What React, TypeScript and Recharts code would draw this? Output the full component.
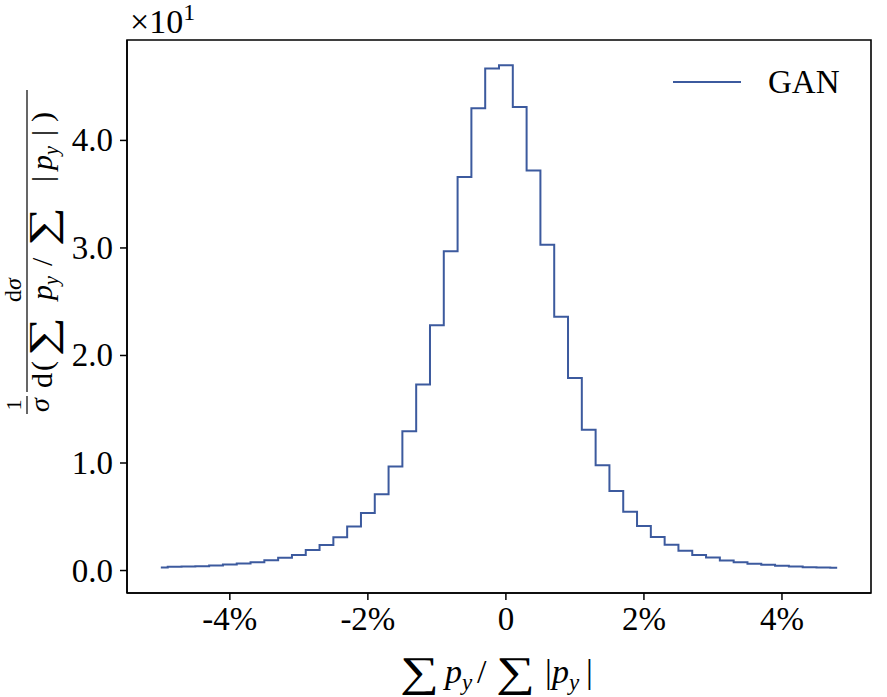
import React from 'react';
import { LineChart, Line, XAxis, YAxis, ReferenceArea } from 'recharts';

// bin centres in percent
const binCenters = [
  -5.0, -4.8, -4.6, -4.4, -4.2, -4.0, -3.8, -3.6, -3.4, -3.2,
  -3.0, -2.8, -2.6, -2.4, -2.2, -2.0, -1.8, -1.6, -1.4, -1.2,
  -1.0, -0.8, -0.6, -0.4, -0.2, 0.0, 0.2, 0.4, 0.6, 0.8,
  1.0, 1.2, 1.4, 1.6, 1.8, 2.0, 2.2, 2.4, 2.6, 2.8,
  3.0, 3.2, 3.4, 3.6, 3.8, 4.0, 4.2, 4.4, 4.6, 4.8,
];

// normalised density, in units of 10^1
const ganValues = [
  0.028, 0.034, 0.037, 0.040, 0.047, 0.056, 0.065, 0.078, 0.096, 0.118,
  0.145, 0.190, 0.238, 0.310, 0.410, 0.535, 0.710, 0.967, 1.295, 1.730,
  2.280, 2.970, 3.660, 4.300, 4.670, 4.700, 4.310, 3.720, 3.030, 2.360,
  1.790, 1.310, 0.980, 0.740, 0.547, 0.414, 0.312, 0.240, 0.185, 0.145,
  0.120, 0.093, 0.078, 0.062, 0.053, 0.044, 0.037, 0.031, 0.028, 0.025,
];

const xTicks = [-4, -2, 0, 2, 4];
const xTickLabels = ['-4%', '-2%', '0', '2%', '4%'];
const yTicks = [0, 1, 2, 3, 4];
const yTickLabels = ['0.0', '1.0', '2.0', '3.0', '4.0'];

const data = binCenters.map((x, i) => ({ x, gan: ganValues[i] }));

const FONT = '"Liberation Serif", "DejaVu Serif", serif';
const LINE_COLOR = '#3C5A9E';
const X_DOMAIN: [number, number] = [-5.49, 5.29];
const Y_DOMAIN: [number, number] = [-0.209, 4.934];

const XTick = ({ x, y, payload }: any) => {
  const i = xTicks.indexOf(payload.value);
  return (
    <text x={x} y={y + 26} textAnchor="middle" fontSize={33} fontFamily={FONT} fill="#000">
      {i >= 0 ? xTickLabels[i] : payload.value}
    </text>
  );
};

const YTick = ({ x, y, payload }: any) => {
  const i = yTicks.indexOf(payload.value);
  return (
    <text x={x} y={y + 11} textAnchor="end" fontSize={33} fontFamily={FONT} fill="#000">
      {i >= 0 ? yTickLabels[i] : payload.value}
    </text>
  );
};

// big summation sign, stretched a little sideways like the TeX one
const Sum = ({ x, y, size, sx = 1.3 }: { x: number; y: number; size: number; sx?: number }) => (
  <text transform={`translate(${x}, ${y}) scale(${sx}, 1)`} fontSize={size} fontFamily={FONT} fill="#000">∑</text>
);

// rotated y label: 1/σ · dσ / d(∑p_y/∑|p_y|)
const YLabel = () => {
  const b = 25; // denominator baseline (local)
  const s = b + 6; // subscript baseline
  return (
    <g transform="translate(27, 250) rotate(-90)" fontFamily={FONT} fill="#000">
      <text x={-155} y={-6} textAnchor="middle" fontSize={22}>1</text>
      <line x1={-164} x2={-146} y1={0} y2={0} stroke="#000" strokeWidth={1.2} />
      <text x={-155} y={22} textAnchor="middle" fontSize={28} fontStyle="italic">σ</text>

      <text x={-40} y={-6} textAnchor="middle" fontSize={24}>
        d<tspan fontStyle="italic">σ</tspan>
      </text>
      <line x1={-142} x2={160} y1={0} y2={0} stroke="#000" strokeWidth={1.2} />
      <text fontSize={30}>
        <tspan x={-138} y={b}>d</tspan>
        <tspan x={-121} y={b}>(</tspan>
        <tspan x={-50} y={b} fontStyle="italic">p</tspan>
        <tspan x={-35} y={s} fontSize={20} fontStyle="italic">y</tspan>
        <tspan x={-16} y={b}>/</tspan>
        <tspan x={68} y={b}>|</tspan>
        <tspan x={80} y={b} fontStyle="italic">p</tspan>
        <tspan x={95} y={s} fontSize={20} fontStyle="italic">y</tspan>
        <tspan x={114} y={b}>|</tspan>
        <tspan x={128} y={b}>)</tspan>
      </text>
      <Sum x={-106} y={b + 3} size={38} sx={1.45} />
      <Sum x={4} y={b + 3} size={38} sx={1.45} />
    </g>
  );
};

export default function App() {
  return (
    <div style={{ position: 'absolute', left: 0, top: 0, width: 887, height: 697, background: '#fff', fontFamily: FONT }}>
      <LineChart width={887} height={697} data={data} margin={{ top: 40, right: 16, bottom: 0, left: 0 }}>
        <XAxis
          dataKey="x"
          type="number"
          domain={X_DOMAIN}
          ticks={xTicks}
          height={104}
          tickSize={7}
          tickMargin={4}
          stroke="#000"
          strokeWidth={1.5}
          tick={<XTick />}
          allowDataOverflow
        />
        <YAxis
          type="number"
          domain={Y_DOMAIN}
          ticks={yTicks}
          width={127}
          tickSize={7}
          tickMargin={7}
          stroke="#000"
          strokeWidth={1.5}
          tick={<YTick />}
          allowDataOverflow
        />
        <ReferenceArea
          x1={X_DOMAIN[0]}
          x2={X_DOMAIN[1]}
          y1={Y_DOMAIN[0]}
          y2={Y_DOMAIN[1]}
          fill="none"
          fillOpacity={0}
          stroke="#000"
          strokeWidth={1.6}
          strokeOpacity={1}
          ifOverflow="visible"
        />
        <Line type="step" dataKey="gan" stroke={LINE_COLOR} strokeWidth={2} dot={false} isAnimationActive={false} />
      </LineChart>

      <svg width={887} height={697} style={{ position: 'absolute', left: 0, top: 0, pointerEvents: 'none' }}>
        {/* offset text */}
        <text x={130} y={33} fontSize={34} fontFamily={FONT} fill="#000">
          ×10<tspan dy={-13} fontSize={24}>1</tspan>
        </text>

        {/* legend */}
        <line x1={673} x2={741} y1={82} y2={82} stroke={LINE_COLOR} strokeWidth={2} />
        <text x={768} y={93} fontSize={33} fontFamily={FONT} fill="#000">GAN</text>

        {/* x label */}
        <Sum x={400} y={686} size={42} />
        <text fontSize={34} fontFamily={FONT} fill="#000">
          <tspan x={445} y={683} fontStyle="italic">p</tspan>
          <tspan x={462} y={690} fontSize={23} fontStyle="italic">y</tspan>
          <tspan x={477} y={683}>/</tspan>
          <tspan x={545} y={683}>|</tspan>
          <tspan x={552} y={683} fontStyle="italic">p</tspan>
          <tspan x={569} y={690} fontSize={23} fontStyle="italic">y</tspan>
          <tspan x={586} y={683}>|</tspan>
        </text>
        <Sum x={496} y={686} size={42} />

        <YLabel />
      </svg>
    </div>
  );
}
